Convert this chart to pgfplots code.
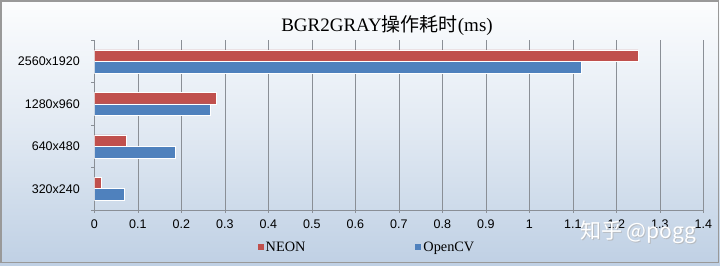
\documentclass[border=0pt]{standalone}
\usepackage{fontspec}
\setmainfont{Liberation Sans}
\newfontfamily\serif{Liberation Serif}
\newfontfamily\cjk{Noto Sans CJK SC}
\usepackage{pgfplots}
\pgfplotsset{compat=1.18}
\definecolor{neon}{HTML}{C0504D}
\definecolor{ocv}{HTML}{4F81BD}
\definecolor{bgtop}{HTML}{FCFDFE}
\definecolor{bgbot}{HTML}{BFD0E4}
\definecolor{gridc}{HTML}{8A8F96}
\begin{document}
\begin{tikzpicture}[x=1pt,y=1pt]
\shade[top color=bgtop,bottom color=bgbot,middle color=bgtop!55!bgbot] (0,0) rectangle (720,265);
\draw[color=gray!80,line width=1.2pt] (1,2.5) rectangle (718.5,264);
\begin{axis}[
  at={(94.3pt,55pt)}, anchor=south west,
  scale only axis, width=609pt, height=170pt,
  xmin=0, xmax=1.4, ymin=-0.5, ymax=3.5,
  xtick={0,0.1,...,1.41},
  xticklabels={0,0.1,0.2,0.3,0.4,0.5,0.6,0.7,0.8,0.9,1,1.1,1.2,1.3,1.4},
  ytick={0,1,2,3},
  yticklabels={320x240,640x480,1280x960,2560x1920},
  minor ytick={-0.5,0.5,1.5,2.5,3.5},
  axis x line*=bottom, axis y line*=left,
  axis line style={gridc,line width=0.6pt,-},
  tick style={gridc,line width=0.6pt},
  tick align=outside,
  major tick length=3pt,
  minor tick length=3pt,
  major y tick style={draw=none},
  minor y tick style={draw=gridc},
  xmajorgrids, major grid style={gridc,line width=0.6pt},
  ymajorgrids=false,
  xbar, bar width=11.5pt,
  ticklabel style={font=\fontsize{12.5}{14}\selectfont, text=black},
  /pgf/number format/assume math mode=true,
  xticklabel style={yshift=-3pt},
  yticklabel style={xshift=-8pt},
  legend columns=2,
  legend style={draw=none, fill=none, at={(0.268,-0.22)}, anchor=west,
    font=\serif\fontsize{14.3}{16}\selectfont, inner sep=0pt,
    /tikz/every even column/.append style={column sep=108pt}},
  legend image code/.code={\fill[#1,draw=none] (0pt,-3pt) rectangle (6pt,3pt);},
]
\addplot[fill=neon, draw=white, line width=0.5pt, bar shift=5.75pt] coordinates {(0.017,0) (0.073,1) (0.28,2) (1.25,3)};
\addplot[fill=ocv, draw=white, line width=0.5pt, bar shift=-5.75pt] coordinates {(0.069,0) (0.187,1) (0.267,2) (1.12,3)};
\legend{NEON,OpenCV}
\end{axis}
\node[anchor=base, inner sep=0pt] at (387,233) {\serif\fontsize{19}{21}\selectfont BGR2GRAY{\cjk 操作耗时}(ms)};
\node[anchor=west, inner sep=0pt, text=gray!60, opacity=0.7] at (581,32) {\cjk\fontsize{21}{23}\selectfont 知乎 @pogg};
\node[anchor=west, inner sep=0pt, text=white] at (580,33) {\cjk\fontsize{21}{23}\selectfont 知乎 @pogg};
\end{tikzpicture}
\end{document}
